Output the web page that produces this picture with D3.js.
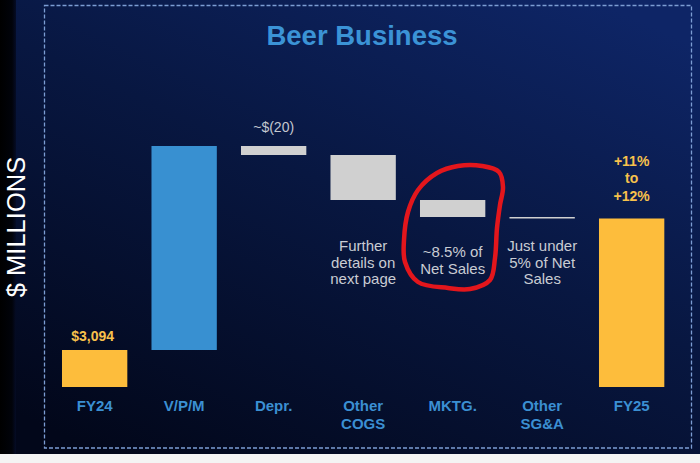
<html>
    <head>
        <style>
            body {
                margin: 0;
                padding: 0;
                background-color: white;
            }
            svg {
                display: block;
            }
        </style>
        <script src="https://cdn.jsdelivr.net/npm/d3@7"></script>
    </head>
    <body>

        <svg width="700" height="463"></svg>

        <script>
            // bridge steps (illustrative units, chart has no axis)
            const categories = ["FY24", "V/P/M", "Depr.", "Other\nCOGS", "MKTG.", "Other\nSG&A", "FY25"];
            const deltas = [37, 204, -9, -45, -17, -1.5, null]; // null = total bar
            const kinds = ["total", "up", "down", "down", "down", "down", "total"];
            const notes = ["", "", "", "Further\ndetails on\nnext page", "~8.5% of\nNet Sales", "Just under\n5% of Net\nSales", ""];
            const topLabels = ["$3,094", "", "~$(20)", "", "", "", "+11%\nto\n+12%"];

            const svg = d3.select("svg");
            const W = 700, H = 463;
            const font = "Liberation Sans, Arial, Helvetica, sans-serif";

            // build the running totals
            let run = 0;
            const steps = categories.map((c, i) => {
                let y0, y1;
                if (kinds[i] == "total") {
                    if (deltas[i] != null) run = deltas[i];
                    y0 = 0; y1 = run;
                } else {
                    y0 = run; run += deltas[i]; y1 = run;
                }
                return {cat: c, i: i, lo: Math.min(y0, y1), hi: Math.max(y0, y1), kind: kinds[i]};
            });

            // background
            const defs = svg.append("defs");
            const bg = defs.append("linearGradient").attr("id", "bg")
                .attr("x1", 0.85).attr("y1", 0).attr("x2", 0.15).attr("y2", 1);
            bg.append("stop").attr("offset", "0%").attr("stop-color", "#0e2566");
            bg.append("stop").attr("offset", "45%").attr("stop-color", "#081741");
            bg.append("stop").attr("offset", "100%").attr("stop-color", "#02071a");

            const strip = defs.append("linearGradient").attr("id", "strip")
                .attr("x1", 0).attr("y1", 0).attr("x2", 1).attr("y2", 0);
            strip.append("stop").attr("offset", "0%").attr("stop-color", "#000");
            strip.append("stop").attr("offset", "75%").attr("stop-color", "#01030a");
            strip.append("stop").attr("offset", "100%").attr("stop-color", "#050c26");

            svg.append("rect").attr("width", W).attr("height", H).attr("fill", "#f4f4f4");
            svg.append("rect").attr("width", W).attr("height", 454).attr("fill", "url(#bg)");
            svg.append("rect").attr("width", 16).attr("height", 454).attr("fill", "url(#strip)");

            // dashed frame
            svg.append("rect")
                .attr("x", 44.5).attr("y", 5.5)
                .attr("width", 647).attr("height", 442.5)
                .attr("fill", "none")
                .attr("stroke", "#7c9dd3")
                .attr("stroke-width", 1.3)
                .attr("stroke-dasharray", "4 2");

            // title
            svg.append("text")
                .attr("x", 362).attr("y", 45)
                .attr("text-anchor", "middle")
                .attr("font-family", font)
                .attr("font-weight", "bold")
                .attr("font-size", "27.5px")
                .attr("fill", "#3b93d6")
                .text("Beer Business");

            // y title
            svg.append("text")
                .attr("transform", "translate(25, 227) rotate(-90)")
                .attr("text-anchor", "middle")
                .attr("font-family", font)
                .attr("font-size", "25.5px")
                .attr("fill", "white")
                .text("$ MILLIONS");

            // scales
            const x = d3.scaleBand()
                .domain(categories)
                .range([49.9, 676.4])
                .paddingInner(0.27)
                .paddingOuter(0.135);

            const y = d3.scaleLinear()
                .domain([0, 241])
                .range([387, 146]);

            const colour = {total: "#fdbd3c", up: "#3890d1", down: "#d0d0d0"};

            // bars
            svg.append("g").selectAll("rect")
                .data(steps)
                .join("rect")
                .attr("x", d => x(d.cat))
                .attr("y", d => y(d.hi))
                .attr("width", x.bandwidth())
                .attr("height", d => Math.max(1.5, y(d.lo) - y(d.hi)))
                .attr("fill", d => colour[d.kind]);

            // category labels
            const catLabels = svg.append("g").selectAll("text")
                .data(steps)
                .join("text")
                .attr("text-anchor", "middle")
                .attr("font-family", font)
                .attr("font-weight", "bold")
                .attr("font-size", "15px")
                .attr("fill", "#3b8fd2");
            catLabels.each(function(d) {
                const t = d3.select(this);
                d.cat.split("\n").forEach((line, k) => {
                    t.append("tspan")
                        .attr("x", x(d.cat) + x.bandwidth() / 2)
                        .attr("y", 411 + k * 18)
                        .text(line);
                });
            });

            // labels above bars
            const gap = {0: 9, 2: 14, 6: 18};
            svg.append("g").selectAll("text")
                .data(steps.filter(d => topLabels[d.i] != ""))
                .join("text")
                .attr("text-anchor", "middle")
                .attr("font-family", font)
                .attr("font-weight", d => d.kind == "total" ? "bold" : "normal")
                .attr("font-size", "14px")
                .attr("fill", d => d.kind == "total" ? "#f7c14c" : "#c4c8d0")
                .each(function(d) {
                    const lines = topLabels[d.i].split("\n");
                    const t = d3.select(this);
                    const base = y(d.hi) - gap[d.i] - (lines.length - 1) * 17.5;
                    lines.forEach((line, k) => {
                        t.append("tspan")
                            .attr("x", x(d.cat) + x.bandwidth() / 2 - (d.i == 0 ? 2 : 0))
                            .attr("y", base + k * 17.5)
                            .text(line);
                    });
                });

            // notes below the cost bars
            svg.append("g").selectAll("text")
                .data(steps.filter(d => notes[d.i] != ""))
                .join("text")
                .attr("text-anchor", "middle")
                .attr("font-family", font)
                .attr("font-size", "15px")
                .attr("fill", "#c9ccd3")
                .each(function(d) {
                    const lines = notes[d.i].split("\n");
                    const t = d3.select(this);
                    const top = d.i == 4 ? 257 : 251;
                    lines.forEach((line, k) => {
                        t.append("tspan")
                            .attr("x", x(d.cat) + x.bandwidth() / 2)
                            .attr("y", top + k * 16.5)
                            .text(line);
                    });
                });

            // hand drawn red ring round the MKTG step
            const ring = [
                [437, 173], [458, 166], [482, 166], [499, 172], [503, 187],
                [500, 205], [497, 228], [495, 258], [490, 280], [470, 289],
                [448, 288], [418, 282], [405, 262], [404, 240], [408, 212],
                [418, 190]
            ];
            svg.append("path")
                .attr("d", d3.line().curve(d3.curveCatmullRomClosed.alpha(0.5))(ring))
                .attr("fill", "none")
                .attr("stroke", "#e3161c")
                .attr("stroke-width", 4.5)
                .attr("stroke-linejoin", "round");
        </script>

    </body>
</html>
